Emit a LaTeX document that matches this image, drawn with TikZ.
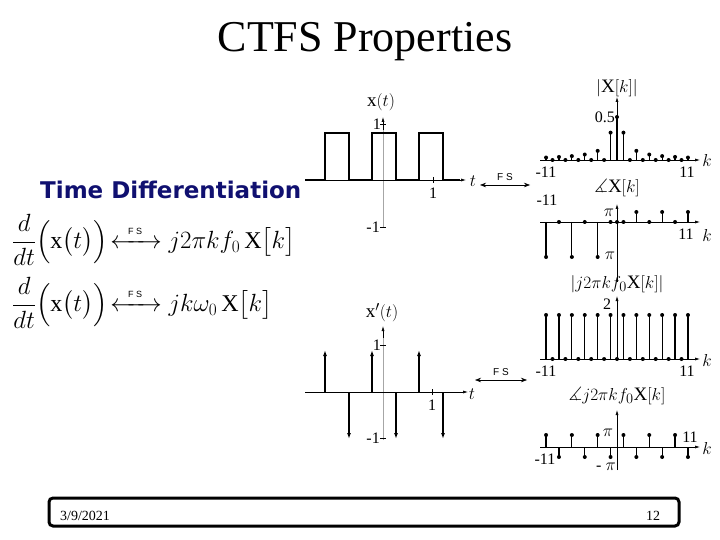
\documentclass[tikz,border=0pt]{standalone}
\usepackage{amsmath,amssymb,mathtools}
\usepackage{fontspec}
\setmainfont{Liberation Serif}
\newfontfamily\headfont{DejaVu Sans}
\newfontfamily\fsfont{Liberation Sans}
\usetikzlibrary{arrows.meta}
\definecolor{navy}{RGB}{16,16,112}
\newcommand{\fslab}{\hspace{0.4em}\text{\fsfont\fontsize{9}{9}\selectfont F S}\hspace{0.6em}}
\begin{document}
\begin{tikzpicture}[x=1pt,y=-1pt,
  ax/.style={line width=0.6pt,-{Latex[length=5pt,width=3pt]}},
  gax/.style={gray!70,line width=0.5pt},
  sig/.style={line width=1.4pt},
  stem/.style={line width=1.2pt},
  dot/.style={fill,circle,inner sep=0pt,minimum size=4pt},
  lab/.style={font=\rmfamily\fontsize{16}{16}\selectfont,inner sep=0pt},
  big/.style={font=\fontsize{19}{19}\selectfont,inner sep=0pt},
  fsarr/.style={{Stealth[length=6pt]}-{Stealth[length=6pt]},line width=0.6pt},
  fs/.style={font=\fsfont\fontsize{10}{10}\selectfont,inner sep=0pt}]
\useasboundingbox (0,0) rectangle (720,540);
\node (title) at (365,42) {\fontsize{44}{44}\selectfont CTFS Properties};
\node[text=navy,anchor=west,inner sep=0pt] (td) at (40,190) {\headfont\bfseries\fontsize{23}{23}\selectfont Time Differentiation};
\node[anchor=west,inner sep=0pt] (f1) at (12,240) {\fontsize{24}{24}\selectfont$\dfrac{d}{dt}\Bigl(\mathrm{x}\bigl(t\bigr)\Bigr)\!\xleftrightarrow{\fslab}j2\pi k f_0\,\mathrm{X}\bigl[k\bigr]$};
\node[anchor=west,inner sep=0pt] (f2) at (12,303) {\fontsize{24}{24}\selectfont$\dfrac{d}{dt}\Bigl(\mathrm{x}\bigl(t\bigr)\Bigr)\!\xleftrightarrow{\fslab}jk\omega_0\,\mathrm{X}\bigl[k\bigr]$};
% top time plot
\draw[gax] (383,228) -- (383,128);
\draw[ax] (383,130) -- (383,117);
\draw[ax] (305,180) -- (466,180);
\draw (433,177) -- (433,183);
\draw (380,124) -- (386,124);
\draw (380,227) -- (386,227);
\draw[sig] (305,180) -- (325,180) |- (349,133) |- (372,180) |- (396,133) |- (419,180) |- (443,133) |- (460,180);
\node[big] (xt) at (381,102) {x$(t)$};
\node[lab,anchor=east] at (381,124) {1};
\node[lab,anchor=east] at (380,227) {-1};
\node[lab] at (433,193) {1};
\node[big] (tt) at (473,181) {$t$};
\coordinate (fa1) at (480,185); \coordinate (fb1) at (530,185);
\draw[fsarr] (fa1) -- (fb1) node[fs,midway,above=4pt] {F S};
% |X[k]|
\draw[ax] (540,160) -- (700,160);
\draw[ax] (617,160) -- (617,97);
\foreach \k in {-11,...,11}{
  \pgfmathsetmacro{\xx}{617+6.45*\k}
  \pgfmathsetmacro{\h}{\k==0 ? 43 : (mod(abs(\k),2)==1 ? 86/(pi*max(abs(\k),1)) : 0)}
  \draw[stem] (\xx,160) -- (\xx,160-\h) node[dot]{};}
\node[big] at (617,88) {$|\mathrm{X}[k]|$};
\node[lab,anchor=east] at (615,117) {0.5};
\node[lab] at (546,172) {-11};
\node[lab] at (687,172) {11};
\node[big] at (707,161) {$k$};
% phase X
\draw[ax] (540,222) -- (700,222);
\draw[ax] (617,282) -- (617,204);
\foreach \k/\h in {-11/-35,-9/0,-7/-35,-5/0,-3/-35,-1/0,0/0,1/0,3/10,5/0,7/10,9/0,11/10}{
  \pgfmathsetmacro{\xx}{617+6.45*\k}
  \draw[stem] (\xx,222) -- (\xx,222-\h) node[dot]{};}
\node[big] at (617,188) {$\measuredangle\mathrm{X}[k]$};
\node[lab] at (547,200) {-11};
\node[lab] at (609,213) {$\pi$};
\node[lab] at (610,256) {$\pi$};
\node[lab] at (686,234) {11};
\node[big] at (707,235) {$k$};
% bottom time plot
\draw[gax] (383,440) -- (383,336);
\draw[ax] (383,338) -- (383,326);
\draw[ax] (305,392) -- (468,392);
\draw (432,389) -- (432,395);
\draw (380,345) -- (386,345);
\draw (380,438) -- (386,438);
\foreach \x in {325,372,419}{\draw[sig,-{Latex[length=6pt,width=4pt]}] (\x,392) -- (\x,350);}
\foreach \x in {349,396,443}{\draw[sig,-{Latex[length=6pt,width=4pt]}] (\x,392) -- (\x,439);}
\node[big] (xpt) at (382,313) {x$'(t)$};
\node[lab,anchor=east] at (381,345) {1};
\node[lab,anchor=east] at (380,438) {-1};
\node[lab] at (432,405) {1};
\node[big] (tb) at (472,394) {$t$};
\coordinate (fa2) at (475,380); \coordinate (fb2) at (527,380);
\draw[fsarr] (fa2) -- (fb2) node[fs,midway,above=4pt] {F S};
% |j2pi k f0 X|
\draw[ax] (540,359) -- (700,359);
\draw[ax] (617,359) -- (617,296);
\foreach \k in {-11,...,11}{
  \pgfmathsetmacro{\xx}{617+6.45*\k}
  \pgfmathsetmacro{\h}{mod(abs(\k),2)==1 ? 44 : 0}
  \draw[stem] (\xx,359) -- (\xx,359-\h) node[dot]{};}
\node[big] at (617,284) {$|j2\pi k f_0\mathrm{X}[k]|$};
\node[lab] at (607,304) {2};
\node[lab] at (546,371) {-11};
\node[lab] at (687,371) {11};
\node[big] at (707,360) {$k$};
% phase
\draw[ax] (540,447) -- (700,447);
\draw[ax] (617,470) -- (617,410);
\foreach \k in {-11,-9,...,11}{
  \pgfmathsetmacro{\xx}{617+6.45*\k}
  \pgfmathsetmacro{\h}{mod((\k+11)/2,2)==0 ? 12 : -10}
  \draw[stem] (\xx,447) -- (\xx,447-\h) node[dot]{};}
\node[big] at (617,396) {$\measuredangle j2\pi k f_0\mathrm{X}[k]$};
\node[lab] at (608,433) {$\pi$};
\node[lab] at (606,467) {- $\pi$};
\node[lab] at (545,459) {-11};
\node[lab] at (690,437) {11};
\node[big] at (707,448) {$k$};
% footer
\draw[line width=3pt,rounded corners=4pt] (49,498) rectangle (679,526);
\node[font=\fontsize{14}{14}\selectfont] (date) at (85,516) {3/9/2021};
\node[font=\fontsize{14}{14}\selectfont] (pg) at (653,516) {12};
\end{tikzpicture}
\end{document}
